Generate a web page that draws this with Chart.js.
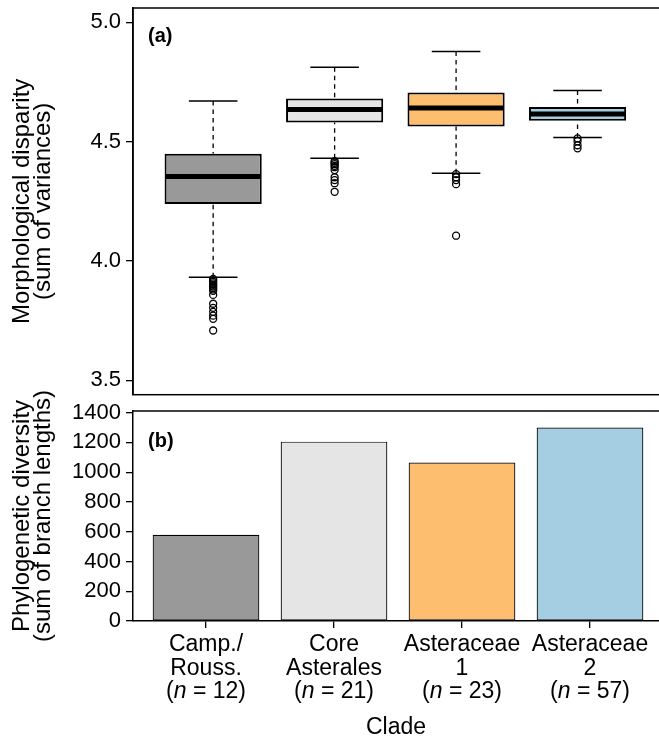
<!DOCTYPE html>
<html><head><meta charset="utf-8">
<script src="https://cdn.jsdelivr.net/npm/chart.js@4.4.1/dist/chart.umd.min.js"></script>
<style>
html,body{margin:0;padding:0;background:#fff;overflow:hidden;}
#wrap{position:relative;width:659px;height:741px;}
canvas{position:absolute;left:0;}
#ca{top:0;z-index:1;} #cb{top:380px;z-index:2;}
</style></head><body>
<div id="wrap"><canvas id="ca" width="659" height="400"></canvas><canvas id="cb" width="659" height="361"></canvas></div>
<script>
// ---------- data ----------
const cladeLabels = [["Camp./","Rouss."],["Core","Asterales"],["Asteraceae","1"],["Asteraceae","2"]];
const cladeSizes = [12, 21, 23, 57];
const cladeColors = ["#999999", "#E5E5E5", "#FDBF6F", "#A6CEE3"];

const disparityLowerWhisker = [3.932, 4.431, 4.368, 4.517];
const disparityQ1           = [4.239, 4.580, 4.564, 4.588];
const disparityMedian       = [4.354, 4.635, 4.641, 4.616];
const disparityQ3           = [4.449, 4.681, 4.706, 4.645];
const disparityUpperWhisker = [4.670, 4.812, 4.878, 4.714];
const outliersCamp = [3.925, 3.919, 3.913, 3.906, 3.900, 3.894, 3.888, 3.881, 3.875, 3.858, 3.821, 3.804, 3.787, 3.771, 3.758, 3.709];
const outliersCore = [4.418, 4.412, 4.406, 4.399, 4.393, 4.381, 4.351, 4.339, 4.326, 4.290];
const outliersAst1 = [4.364, 4.351, 4.339, 4.322, 4.106];
const outliersAst2 = [4.514, 4.502, 4.485, 4.472];
const disparityTicks = [3.5, 4.0, 4.5, 5.0];

const phyloDiversity = [580, 1205, 1065, 1300];
const phyloTicks = [0, 200, 400, 600, 800, 1000, 1200, 1400];

// ---------- shared ----------
const FONT = "'Liberation Sans', Arial, Helvetica, sans-serif";
const allOutliers = [outliersCamp, outliersCore, outliersAst1, outliersAst2];
const cats = cladeLabels.map((_, i) => i + 1);

function yAfterFit(s) { s.width = 133; s.paddingTop = 0; s.paddingBottom = 0; }

// ---------- panel (a): boxplot ----------
const boxPlugin = {
  id: 'boxExtras',
  beforeDatasetsDraw(chart) {
    const ctx = chart.ctx, x = chart.scales.x, y = chart.scales.y;
    const meta = chart.getDatasetMeta(0);
    ctx.save();
    ctx.strokeStyle = '#000';
    cats.forEach((c, i) => {
      const px = x.getPixelForValue(c);
      const half = meta.data[i].width / 4;
      ctx.lineWidth = 1.3;
      ctx.setLineDash([4.5, 4]);
      ctx.beginPath();
      ctx.moveTo(px, y.getPixelForValue(disparityUpperWhisker[i]));
      ctx.lineTo(px, y.getPixelForValue(disparityQ3[i]));
      ctx.moveTo(px, y.getPixelForValue(disparityLowerWhisker[i]));
      ctx.lineTo(px, y.getPixelForValue(disparityQ1[i]));
      ctx.stroke();
      ctx.setLineDash([]);
      ctx.lineWidth = 1.5;
      ctx.beginPath();
      [disparityUpperWhisker[i], disparityLowerWhisker[i]].forEach(v => {
        const py = y.getPixelForValue(v);
        ctx.moveTo(px - half, py); ctx.lineTo(px + half, py);
      });
      ctx.stroke();
    });
    ctx.restore();
  },
  afterDatasetsDraw(chart) {
    const ctx = chart.ctx, x = chart.scales.x, y = chart.scales.y;
    const meta = chart.getDatasetMeta(0);
    ctx.save();
    ctx.strokeStyle = '#000';
    ctx.lineWidth = 5;
    cats.forEach((c, i) => {
      const px = x.getPixelForValue(c);
      const half = meta.data[i].width / 2;
      const py = y.getPixelForValue(disparityMedian[i]);
      ctx.beginPath();
      ctx.moveTo(px - half + 1, py); ctx.lineTo(px + half - 1, py);
      ctx.stroke();
    });
    ctx.restore();
  },
  afterDraw(chart) {
    const ctx = chart.ctx, a = chart.chartArea;
    ctx.save();
    ctx.strokeStyle = '#000';
    ctx.lineWidth = 1.5;
    ctx.strokeRect(a.left, a.top, a.right - a.left + 20, a.bottom - a.top);
    ctx.fillStyle = '#000';
    ctx.font = "bold 20px " + FONT;
    ctx.textBaseline = 'middle';
    ctx.fillText('(a)', a.left + 15, a.top + 28.5);
    ctx.restore();
  }
};

new Chart(document.getElementById('ca'), {
  type: 'bar',
  data: {
    datasets: [
      {
        type: 'bar',
        data: cats.map((c, i) => ({ x: c, y: [disparityQ1[i], disparityQ3[i]] })),
        backgroundColor: cladeColors,
        borderColor: '#000',
        borderWidth: 2,
        borderSkipped: false,
        barPercentage: 0.8,
        categoryPercentage: 1,
        order: 2
      },
      {
        type: 'scatter',
        data: allOutliers.flatMap((arr, i) => arr.map(v => ({ x: cats[i], y: v }))),
        pointRadius: 3.5,
        pointBorderWidth: 1.3,
        borderColor: '#000',
        backgroundColor: 'rgba(0,0,0,0)',
        order: 1
      }
    ]
  },
  options: {
    responsive: false,
    animation: false,
    events: [],
    layout: { padding: { top: 8, bottom: 4, left: 0, right: 0 } },
    plugins: { legend: { display: false }, tooltip: { enabled: false } },
    scales: {
      x: {
        type: 'linear', display: false, offset: false, min: 0.34, max: 4.627,
        afterBuildTicks: s => { s.ticks = cats.map(v => ({ value: v })); }
      },
      y: {
        min: 3.44, max: 5.06,
        afterBuildTicks: s => { s.ticks = disparityTicks.map(v => ({ value: v })); },
        afterFit: yAfterFit,
        grid: { drawOnChartArea: false, tickLength: 7, color: '#000', lineWidth: 1.3 },
        border: { color: '#000', width: 1.5 },
        ticks: { color: '#000', padding: 5, font: { family: FONT, size: 22 }, callback: v => v.toFixed(1) },
        title: {
          display: true, text: ['Morphological disparity', '(sum of variances)'],
          color: '#000', font: { family: FONT, size: 24, lineHeight: 21.5 / 24 }, padding: { top: 11.5, bottom: 0 }
        }
      }
    }
  },
  plugins: [boxPlugin]
});

// ---------- panel (b): bar chart ----------
const LABEL_LH = 23.5;
const barPlugin = {
  id: 'barExtras',
  afterDraw(chart) {
    const ctx = chart.ctx, a = chart.chartArea, x = chart.scales.x;
    ctx.save();
    ctx.strokeStyle = '#000';
    ctx.lineWidth = 1.5;
    ctx.beginPath();
    ctx.moveTo(a.left, a.top); ctx.lineTo(a.right + 20, a.top);
    ctx.stroke();
    ctx.fillStyle = '#000';
    ctx.font = "bold 20px " + FONT;
    ctx.textBaseline = 'middle';
    ctx.fillText('(b)', a.left + 15, a.top + 30);
    // third line of category labels: (n = N) with italic n
    const yLine = x.top + 7 + 5 + LABEL_LH / 2 + 2 * LABEL_LH;
    const fN = "23px " + FONT, fI = "italic 23px " + FONT;
    cats.forEach((c, i) => {
      const parts = [['(', fN], ['n', fI], [' = ' + cladeSizes[i] + ')', fN]];
      let w = 0;
      parts.forEach(p => { ctx.font = p[1]; w += ctx.measureText(p[0]).width; });
      let px = x.getPixelForValue(c) - w / 2;
      ctx.textAlign = 'left';
      parts.forEach(p => { ctx.font = p[1]; ctx.fillText(p[0], px, yLine); px += ctx.measureText(p[0]).width; });
    });
    ctx.restore();
  }
};

new Chart(document.getElementById('cb'), {
  type: 'bar',
  data: {
    datasets: [{
      data: cats.map((c, i) => ({ x: c, y: phyloDiversity[i] })),
      backgroundColor: cladeColors,
      borderColor: '#000',
      borderWidth: 1.2,
      borderSkipped: false,
      barPercentage: 1 / 1.2,
      categoryPercentage: 1
    }]
  },
  options: {
    responsive: false,
    animation: false,
    events: [],
    layout: { padding: { top: 31, bottom: 0, left: 0, right: 0 } },
    plugins: { legend: { display: false }, tooltip: { enabled: false } },
    scales: {
      x: {
        type: 'linear', offset: false, min: 0.4297, max: 4.539,
        afterBuildTicks: s => { s.ticks = cats.map(v => ({ value: v })); },
        afterFit: s => { s.height = 120; s.paddingLeft = 0; s.paddingRight = 0; },
        grid: { drawOnChartArea: false, offset: false, tickLength: 7, color: '#000', lineWidth: 1.3 },
        border: { color: '#000', width: 1.5 },
        ticks: {
          color: '#000', padding: 5, maxRotation: 0, autoSkip: false,
          font: { family: FONT, size: 23, lineHeight: LABEL_LH / 23 },
          callback: (v, i) => cladeLabels[i]
        },
        title: {
          display: true, text: 'Clade', color: '#000',
          font: { family: FONT, size: 23, lineHeight: 1 }, padding: { top: 0, bottom: 2 }
        }
      },
      y: {
        min: 0, max: 1411,
        afterBuildTicks: s => { s.ticks = phyloTicks.map(v => ({ value: v })); },
        afterFit: yAfterFit,
        grid: { drawOnChartArea: false, tickLength: 7, color: '#000', lineWidth: 1.3 },
        border: { color: '#000', width: 1.5 },
        ticks: { color: '#000', padding: 5, font: { family: FONT, size: 22 }, callback: v => String(v) },
        title: {
          display: true, text: ['Phylogenetic diversity', '(sum of branch lengths)'],
          color: '#000', font: { family: FONT, size: 24, lineHeight: 21.5 / 24 }, padding: { top: 11.5, bottom: 0 }
        }
      }
    }
  },
  plugins: [barPlugin]
});
</script>
</body></html>
